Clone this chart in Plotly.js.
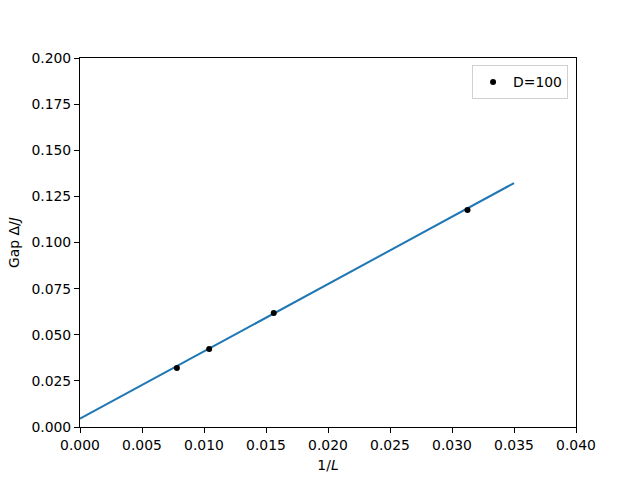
<!DOCTYPE html>
<html>
<head>
<meta charset="utf-8">
<script src="https://cdn.plot.ly/plotly-3.0.1.min.js"></script>
<style>body{margin:0}#plot{width:640px;height:480px}</style>
</head>
<body>
<div id="plot"></div>
<script>
// data points, x = 1/L
let invL = [0.0078125, 0.0104167, 0.015625, 0.03125];
let gap = [0.032, 0.0423, 0.0618, 0.1176];

// linear fit line ends
let fitX = [0, 0.035];
let fitY = [0.0045, 0.1322];

let font = {family: "DejaVu Sans", size: 13.9, color: "#000"};

let points = {
  x: invL,
  y: gap,
  type: "scatter",
  mode: "markers",
  name: "D=100",
  marker: {color: "black", size: 6}
};

let fit = {
  x: fitX,
  y: fitY,
  type: "scatter",
  mode: "lines",
  showlegend: false,
  line: {color: "#1f77b4", width: 2}
};

let axis = {
  showgrid: false,
  zeroline: false,
  showline: true,
  mirror: true,
  linecolor: "black",
  linewidth: 1,
  ticks: "outside",
  ticklen: 5,
  tickcolor: "black",
  tickfont: font
};

let layout = {
  width: 640,
  height: 480,
  margin: {l: 80, r: 64, t: 58, b: 53},
  paper_bgcolor: "white",
  plot_bgcolor: "white",
  font: font,
  showlegend: true,
  legend: {
    x: 0.984, y: 0.98, xanchor: "right", yanchor: "top",
    bordercolor: "#d0d0d0", borderwidth: 1, bgcolor: "white",
    font: font
  },
  xaxis: Object.assign({}, axis, {
    range: [0, 0.04], dtick: 0.005, tickformat: ".3f",
    title: {text: "1/<i>L</i>", font: font, standoff: 8}
  }),
  yaxis: Object.assign({}, axis, {
    range: [0, 0.2], dtick: 0.025, tickformat: ".3f",
    title: {text: "Gap Δ/<i>J</i>", font: font, standoff: 8}
  })
};

Plotly.newPlot("plot", [fit, points], layout, {staticPlot: true});
</script>
</body>
</html>
